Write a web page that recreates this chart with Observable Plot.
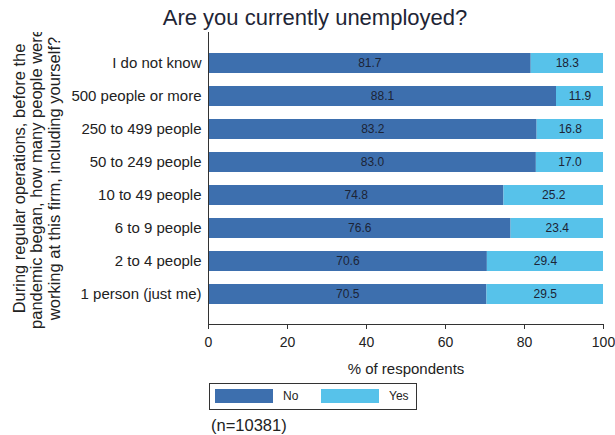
<!DOCTYPE html>
<html><head><meta charset="utf-8">
<script src="https://cdn.jsdelivr.net/npm/d3@7"></script>
<script src="https://cdn.jsdelivr.net/npm/@observablehq/plot@0.6"></script>
<style>
body{margin:0;background:#fff;font-family:"Liberation Sans",Arial,sans-serif;color:#222}
#wrap{position:relative;width:615px;height:435px;overflow:hidden;background:#fff}
#title{position:absolute;top:5px;left:0;width:615px;box-sizing:border-box;padding-left:15px;text-align:center;font-size:22px;line-height:26px;color:#1e2535}
#chart{position:absolute;top:32px;left:0}
#legend{position:absolute;left:209px;top:383px;width:208px;height:27px;box-sizing:border-box;border:1px solid #333;background:#fff}
.sw{position:absolute;top:5px;width:58px;height:14px}
.lt{position:absolute;top:5px;font-size:12px;line-height:14px;color:#222}
#caption{position:absolute;left:211px;top:415px;font-size:16.5px;line-height:20px;color:#222}
#chart svg text{font-family:"Liberation Sans",Arial,sans-serif}
</style></head>
<body>
<div id="wrap">
  <div id="title">Are you currently unemployed?</div>
  <div id="chart"></div>
  <div id="legend"></div>
  <div id="caption">(n=10381)</div>
</div>
<script>
const categories = ["I do not know","500 people or more","250 to 499 people","50 to 249 people","10 to 49 people","6 to 9 people","2 to 4 people","1 person (just me)"];
const noValues  = [81.7, 88.1, 83.2, 83.0, 74.8, 76.6, 70.6, 70.5];
const yesValues = [18.3, 11.9, 16.8, 17.0, 25.2, 23.4, 29.4, 29.5];
const seriesNames = ["No","Yes"];
const seriesColors = ["#3d6fae","#57c2ea"];
const xTicks = [0,20,40,60,80,100];

const data = [];
categories.forEach((c,i)=>{
  data.push({cat:c, resp:"No", value:noValues[i]});
  data.push({cat:c, resp:"Yes", value:yesValues[i]});
});

const plot = Plot.plot({
  width: 615,
  height: 350,
  marginTop: 0,
  marginBottom: 58,
  marginLeft: 208,
  marginRight: 12,
  style: {fontFamily: '"Liberation Sans", Arial, sans-serif', color: "#222", background: "transparent"},
  x: {domain: [0,100]},
  y: {domain: categories, paddingInner: 0.4, paddingOuter: 0.6},
  color: {domain: seriesNames, range: seriesColors},
  marks: [
    Plot.barX(data, Plot.stackX({y: "cat", x: "value", fill: "resp"})),
    Plot.text(data, Plot.stackX({y: "cat", x: "value", z: "resp", text: d => d.value.toFixed(1), fill: "#1c2436", fontSize: 12})),
    Plot.ruleX([0], {stroke: "#333"}),
    Plot.frame({anchor: "bottom", stroke: "#333"}),
    Plot.axisX({ticks: xTicks, tickSize: 5, tickPadding: 8, fontSize: 14, stroke: "#333",
      label: "% of respondents", labelAnchor: "center", labelArrow: "none", labelOffset: 49}),
    Plot.axisY({tickSize: 0, tickPadding: 7, fontSize: 15, label: null}),
    Plot.text(["During regular operations, before the\npandemic began, how many people were\nworking at this firm, including yourself?"],
      {text: d => d, frameAnchor: "left", dx: -172, rotate: -90, fontSize: 16.5, lineHeight: 1.06, textAnchor: "middle", lineAnchor: "middle", fill: "#222"})
  ]
});
document.getElementById("chart").appendChild(plot);
plot.querySelectorAll("g[aria-label='x-axis label']").forEach(g => {
  g.setAttribute("font-size", 15);
  g.querySelectorAll("text").forEach(t => t.setAttribute("font-size", 15));
});

const legend = document.getElementById("legend");
const legendPos = [{sw:5, tx:73},{sw:111, tx:179}];
seriesNames.forEach((s,i)=>{
  const sw = document.createElement("div");
  sw.className = "sw"; sw.style.left = legendPos[i].sw + "px"; sw.style.background = seriesColors[i];
  legend.appendChild(sw);
  const t = document.createElement("div");
  t.className = "lt"; t.style.left = legendPos[i].tx + "px"; t.textContent = s;
  legend.appendChild(t);
});
</script>
</body></html>
